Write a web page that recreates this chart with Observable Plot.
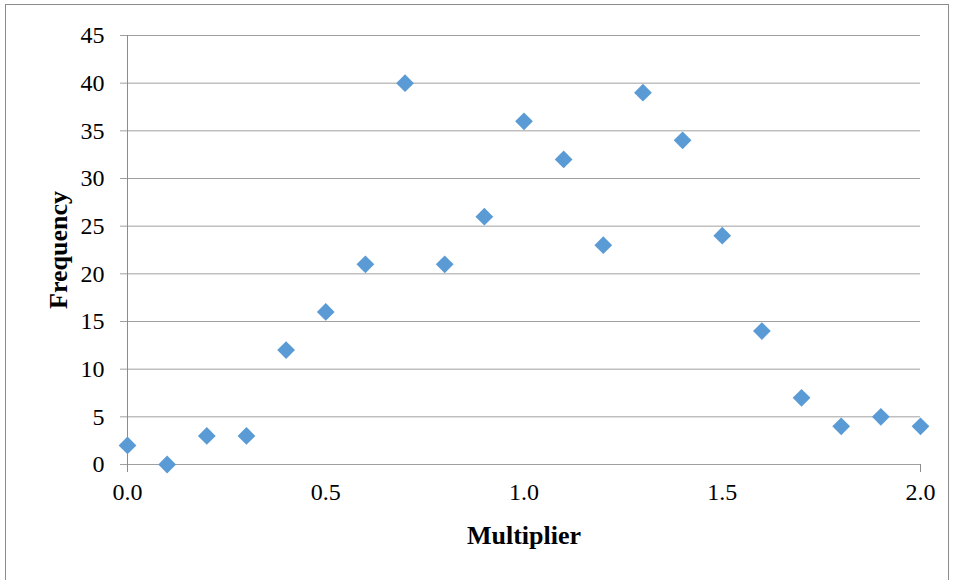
<!DOCTYPE html>
<html><head><meta charset="utf-8">
<script src="https://cdn.jsdelivr.net/npm/d3@7"></script>
<script src="https://cdn.jsdelivr.net/npm/@observablehq/plot@0.6"></script>
<style>
html,body{margin:0;padding:0;background:#fff;}
#wrap{position:relative;width:956px;height:580px;overflow:hidden;}
#frame{position:absolute;left:5px;top:4px;width:944px;height:590px;border:1.5px solid #8c8c8c;box-sizing:border-box;pointer-events:none;}
</style></head>
<body><div id="wrap"><div id="frame"></div></div>
<script>
const multiplier = [0.0,0.1,0.2,0.3,0.4,0.5,0.6,0.7,0.8,0.9,1.0,1.1,1.2,1.3,1.4,1.5,1.6,1.7,1.8,1.9,2.0];
const frequency  = [2,0,3,3,12,16,21,40,21,26,36,32,23,39,34,24,14,7,4,5,4];
const xTicks = [0,0.5,1,1.5,2];
const yTicks = [0,5,10,15,20,25,30,35,40,45];
const data = multiplier.map((m,i)=>({m, f: frequency[i]}));

const font = "'Liberation Serif', 'Times New Roman', serif";
const chart = Plot.plot({
  width: 956, height: 580,
  marginLeft: 127, marginRight: 36, marginTop: 35, marginBottom: 116,
  style: {fontFamily: font, fontSize: "24px", color: "#000", background: "transparent"},
  x: {domain: [0,2]},
  y: {domain: [0,45]},
  marks: [
    Plot.gridY(yTicks, {stroke: "#a0a0a0", strokeOpacity: 1, strokeWidth: 1, insetLeft: -7}),
    Plot.ruleX([0], {y1: 0, y2: 45, stroke: "#8c8c8c", strokeWidth: 1, insetTop: 8}),
    Plot.ruleX([2], {y1: 0, y2: 0, stroke: "#8c8c8c", strokeWidth: 1, insetTop: 8}),
    Plot.axisY(yTicks, {tickSize: 0, tickPadding: 23, label: null, fontSize: 24}),
    Plot.axisX(xTicks, {tickSize: 0, tickPadding: 18, tickFormat: d3.format(".1f"), label: null, fontSize: 24}),
    Plot.dot(data, {x: "m", y: "f", symbol: "diamond2", r: 8, fill: "#5b9bd5", stroke: "none"}),
    Plot.text(["Frequency"], {frameAnchor: "left", dx: -69, rotate: -90, textAnchor: "middle", lineAnchor: "middle", fontWeight: "bold", fontSize: 26}),
    Plot.text(["Multiplier"], {frameAnchor: "bottom", dy: 71, textAnchor: "middle", lineAnchor: "middle", fontWeight: "bold", fontSize: 26})
  ]
});
document.getElementById("wrap").prepend(chart);
</script>
</body></html>
